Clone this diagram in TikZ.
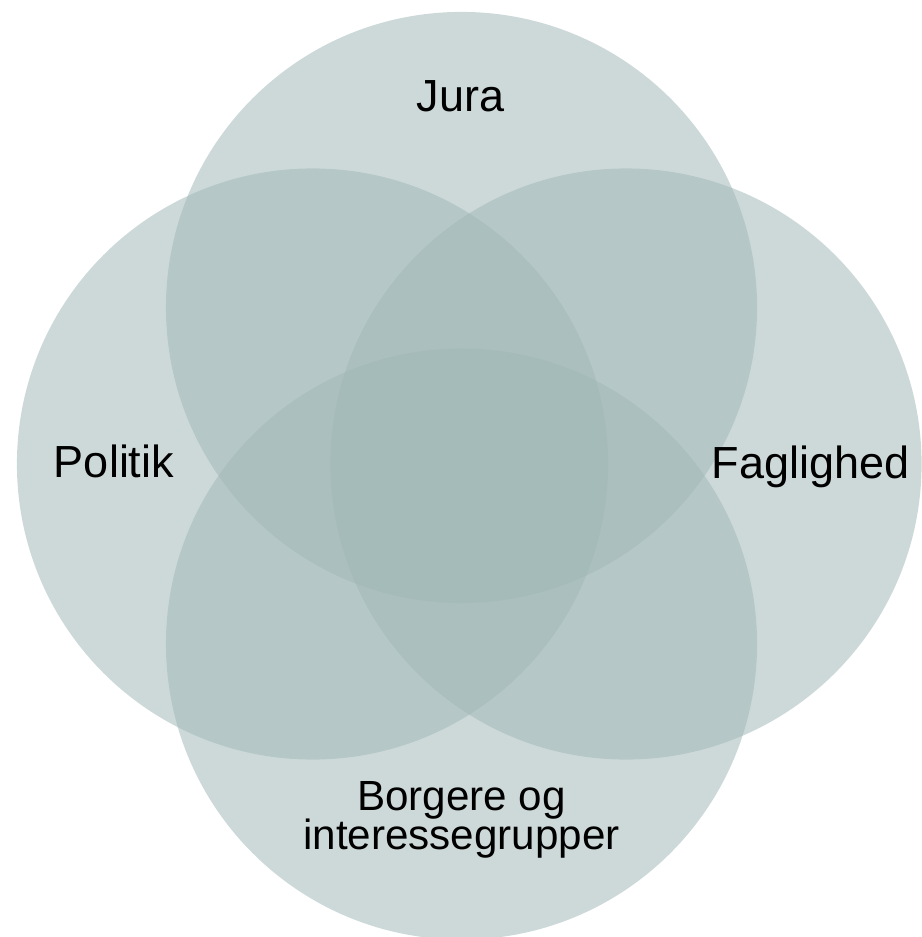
\documentclass[tikz,border=0pt]{standalone}
\usepackage{fontspec}
\setmainfont{Liberation Sans}
\usetikzlibrary{positioning}
\definecolor{venngrey}{RGB}{160,183,182}
\tikzset{venncircle/.style={circle, fill=venngrey, fill opacity=0.52, draw=none, inner sep=0pt, minimum size=14.775cm}}
\tikzset{bigtext/.style={font=\fontsize{32}{38}\selectfont, text=black, anchor=base}}
\tikzset{smalltext/.style={font=\fontsize{30}{28}\selectfont, text=black, align=center}}

\begin{document}
\begin{tikzpicture}[x=0.025cm, y=-0.025cm]
        \useasboundingbox (0, 0) rectangle (921, 937);
        \begin{scope}
            \node[venncircle] (Cjura) at (461.5, 307.5) {};
            \node[venncircle] (Cpolitik) at (312.5, 464) {};
            \node[venncircle] (Cfag) at (626, 464) {};
            \node[venncircle] (Cborger) at (461.5, 644) {};

            \node[bigtext] (Ljura) at (460.5, 112) {Jura};
            \node[bigtext] (Lpolitik) at (114, 477.5) {Politik};
            \node[bigtext] (Lfag) at (810.5, 478) {Faglighed};
            \node[smalltext] (Lborger) at (461.5, 820) {Borgere og\\interessegrupper};
        \end{scope}
    \end{tikzpicture}
\end{document}
